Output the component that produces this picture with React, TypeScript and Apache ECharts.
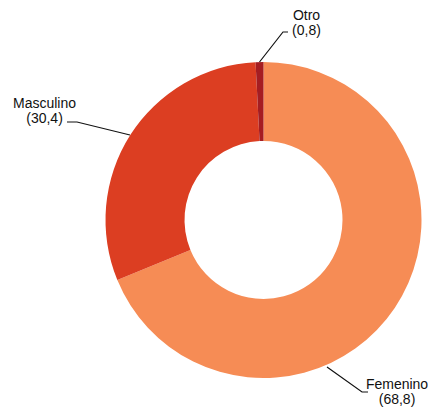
import React, { useEffect, useRef } from "react";
import * as echarts from "echarts";

const categories = ["Femenino", "Masculino", "Otro"];
const values = [68.8, 30.4, 0.8];
const colors = ["#F68C55", "#DC3E22", "#A51D22"];

// label placements (text centre and leader-line points), in chart pixels
const labelPlacement = [
  { x: 397, y: 391.5, line: [[327, 367], [362, 392], [368, 392]] },
  { x: 44.5, y: 110.5, line: [[130, 135], [77, 122], [67, 122]] },
  { x: 306.5, y: 22.5, line: [[259.5, 62], [283, 32], [288, 32]] },
];

export default function App() {
  const ref = useRef<HTMLDivElement>(null);
  useEffect(() => {
    if (!ref.current) return;
    const chart = echarts.init(ref.current, null, { renderer: "svg" });
    chart.setOption({
      animation: false,
      series: [
        {
          type: "pie",
          center: [263.5, 220],
          radius: [79, 158],
          startAngle: 90,
          clockwise: true,
          avoidLabelOverlap: false,
          itemStyle: { borderWidth: 0 },
          emphasis: { disabled: true },
          label: {
            show: true,
            position: "outside",
            fontFamily: "'Liberation Sans', Arial, Helvetica, sans-serif",
            fontSize: 14,
            lineHeight: 15,
            color: "#111",
            align: "center",
            formatter: (p: any) =>
              p.name + "\n(" + String(p.value).replace(".", ",") + ")",
          },
          labelLine: {
            show: true,
            lineStyle: { color: "#111", width: 1.2 },
          },
          labelLayout: (params: any) => {
            const pl = labelPlacement[params.dataIndex];
            return {
              x: pl.x,
              y: pl.y,
              align: "center",
              verticalAlign: "middle",
              labelLinePoints: pl.line,
            };
          },
          data: categories.map((name, i) => ({
            name,
            value: values[i],
            itemStyle: { color: colors[i] },
          })),
        },
      ],
    });
    return () => chart.dispose();
  }, []);
  return (
    <div
      ref={ref}
      style={{ position: "fixed", left: 0, top: 0, width: 428, height: 407, background: "#fff" }}
    />
  );
}
